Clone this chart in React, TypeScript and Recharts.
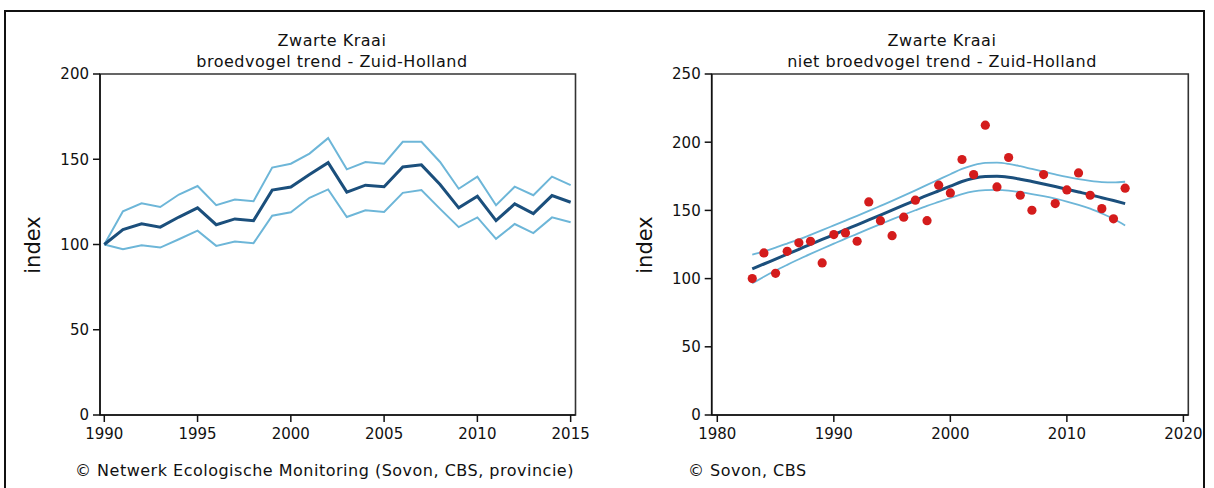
import React from 'react';
import { ComposedChart, Line, Scatter, XAxis, YAxis, ReferenceArea } from 'recharts';

// ---- Left chart: broedvogel trend ----
const breedYears = [1990, 1991, 1992, 1993, 1994, 1995, 1996, 1997, 1998, 1999, 2000, 2001, 2002, 2003, 2004, 2005, 2006, 2007, 2008, 2009, 2010, 2011, 2012, 2013, 2014, 2015];
const breedIndex = [100, 108.7, 112.2, 110.2, 116.1, 121.5, 111.6, 115, 114, 131.9, 133.7, 141.1, 148, 130.7, 134.8, 133.9, 145.5, 146.7, 135.2, 121.5, 128.3, 114, 123.8, 118.1, 128.7, 124.8];
const breedUpper = [100, 119.5, 124.2, 122, 129.3, 134.3, 123.1, 126.4, 125.4, 145.1, 147.4, 153.3, 162.4, 144.1, 148.4, 147.4, 160.2, 160.2, 148.4, 132.7, 139.8, 123, 133.9, 128.9, 139.8, 134.8];
const breedLower = [100, 97.2, 99.6, 98.2, 103.1, 108.1, 99.2, 101.8, 100.8, 116.9, 118.9, 127.4, 132.3, 116.1, 120.1, 119.1, 130.3, 131.9, 120.9, 110.2, 115.9, 103.3, 112, 106.7, 115.9, 113];
const breedXTicks = [1990, 1995, 2000, 2005, 2010, 2015];
const breedYTicks = [0, 50, 100, 150, 200];

// ---- Right chart: niet-broedvogel trend ----
const winterYears = [1983, 1984, 1985, 1986, 1987, 1988, 1989, 1990, 1991, 1992, 1993, 1994, 1995, 1996, 1997, 1998, 1999, 2000, 2001, 2002, 2003, 2004, 2005, 2006, 2007, 2008, 2009, 2010, 2011, 2012, 2013, 2014, 2015];
const winterObserved = [100, 118.8, 103.9, 120, 126.2, 127.4, 111.5, 132.3, 133.5, 127.4, 156.2, 142.5, 131.5, 145, 157.5, 142.5, 168.5, 162.8, 187.3, 176.3, 212.5, 167.2, 188.8, 161.1, 150.1, 176.3, 155, 165, 177.5, 161.1, 151.3, 143.8, 166.3];
const winterTrend = [107.1, 110.7, 114.3, 117.9, 121.5, 125.1, 128.7, 132.3, 135.9, 139.4, 143.0, 146.6, 150.2, 153.8, 157.4, 161.0, 164.4, 167.8, 171.2, 173.6, 174.8, 175.0, 174.3, 172.9, 171.2, 169.4, 167.5, 165.5, 163.5, 161.5, 159.3, 157.2, 155.0];
const winterUpper = [117.6, 120.0, 122.7, 125.7, 128.8, 132.1, 135.5, 139.0, 142.5, 146.0, 149.6, 153.3, 157.0, 160.8, 164.7, 168.7, 172.6, 176.5, 180.4, 183.2, 184.8, 185.0, 184.1, 182.4, 180.4, 178.4, 176.4, 174.5, 172.9, 171.7, 170.8, 170.5, 171.0];
const winterLower = [96.6, 101.4, 105.9, 110.1, 114.2, 118.1, 121.9, 125.6, 129.3, 132.8, 136.4, 139.9, 143.4, 146.8, 150.1, 153.3, 156.2, 159.1, 162.0, 164.0, 164.8, 165.0, 164.5, 163.4, 162.0, 160.4, 158.6, 156.5, 154.1, 151.3, 147.8, 143.9, 139.0];
const winterXTicks = [1980, 1990, 2000, 2010, 2020];
const winterYTicks = [0, 50, 100, 150, 200, 250];

const breedData = breedYears.map((year, i) => ({ year, index: breedIndex[i], upper: breedUpper[i], lower: breedLower[i] }));
const winterData = winterYears.map((year, i) => ({ year, trend: winterTrend[i], upper: winterUpper[i], lower: winterLower[i] }));
const winterPoints = winterYears.map((year, i) => ({ year, obs: winterObserved[i] }));

const FONT = '"DejaVu Sans", Verdana, sans-serif';
const DARK = '#1b4f7c';
const LIGHT = '#6db6d8';
const AXIS = '#111';
const tickStyle = { fill: '#111', fontSize: 15, fontFamily: FONT };

const Dot = (props: any) => {
  const { cx, cy } = props;
  if (cx == null || cy == null) return null;
  return <circle cx={cx} cy={cy} r={4.6} fill="#d41c1c" />;
};

export default function App() {
  const bx: [number, number] = [1989.77, 2015.26];
  const wx: [number, number] = [1979.52, 2020.42];
  return (
    <div style={{ position: 'absolute', left: 0, top: 0, width: 1214, height: 488, background: '#fff', overflow: 'hidden' }}>
      <div style={{ position: 'absolute', left: 0, top: 0 }}>
        <ComposedChart width={620} height={488} data={breedData} margin={{ top: 74, right: 44.5, bottom: 43, left: 40 }}>
          <ReferenceArea x1={bx[0]} x2={bx[1]} y1={0} y2={200} fill="none" stroke="#333" strokeWidth={1.6} ifOverflow="visible" />
          <XAxis dataKey="year" type="number" domain={bx} ticks={breedXTicks} allowDataOverflow interval={0}
            height={30} tickSize={7} tickMargin={6} stroke={AXIS} strokeWidth={1.5} tick={tickStyle} />
          <YAxis type="number" domain={[0, 200]} ticks={breedYTicks} allowDataOverflow interval={0}
            width={60} tickSize={7} tickMargin={4} stroke={AXIS} strokeWidth={1.5} tick={tickStyle} />
          <Line dataKey="upper" type="linear" stroke={LIGHT} strokeWidth={2} dot={false} isAnimationActive={false} />
          <Line dataKey="lower" type="linear" stroke={LIGHT} strokeWidth={2} dot={false} isAnimationActive={false} />
          <Line dataKey="index" type="linear" stroke={DARK} strokeWidth={3} dot={false} isAnimationActive={false} />
        </ComposedChart>
      </div>
      <div style={{ position: 'absolute', left: 610, top: 0 }}>
        <ComposedChart width={604} height={488} data={winterData} margin={{ top: 74, right: 25.7, bottom: 43, left: 41.7 }}>
          <ReferenceArea x1={wx[0]} x2={wx[1]} y1={0} y2={250} fill="none" stroke="#333" strokeWidth={1.6} ifOverflow="visible" />
          <XAxis dataKey="year" type="number" domain={wx} ticks={winterXTicks} allowDataOverflow interval={0}
            height={30} tickSize={7} tickMargin={6} stroke={AXIS} strokeWidth={1.5} tick={tickStyle} />
          <YAxis type="number" domain={[0, 250]} ticks={winterYTicks} allowDataOverflow interval={0}
            width={60} tickSize={7} tickMargin={4} stroke={AXIS} strokeWidth={1.5} tick={tickStyle} />
          <Line dataKey="upper" type="monotone" stroke={LIGHT} strokeWidth={1.8} dot={false} isAnimationActive={false} />
          <Line dataKey="lower" type="monotone" stroke={LIGHT} strokeWidth={1.8} dot={false} isAnimationActive={false} />
          <Line dataKey="trend" type="monotone" stroke={DARK} strokeWidth={3} dot={false} isAnimationActive={false} />
          <Scatter data={winterPoints} dataKey="obs" shape={Dot} isAnimationActive={false} />
        </ComposedChart>
      </div>
      <svg width={1214} height={488} style={{ position: 'absolute', left: 0, top: 0, pointerEvents: 'none' }} fontFamily={FONT}>
        <path d="M5,488 V11 H1204 V488" fill="none" stroke="#111" strokeWidth={2} />
        <text x={332} y={46} textAnchor="middle" fontSize={16} letterSpacing={0.5} fill="#111">Zwarte Kraai</text>
        <text x={332} y={67} textAnchor="middle" fontSize={16} letterSpacing={0.5} fill="#111">broedvogel trend - Zuid-Holland</text>
        <text x={942} y={46} textAnchor="middle" fontSize={16} letterSpacing={0.5} fill="#111">Zwarte Kraai</text>
        <text x={942} y={67} textAnchor="middle" fontSize={16} letterSpacing={0.5} fill="#111">niet broedvogel trend - Zuid-Holland</text>
        <text transform="translate(40,245) rotate(-90)" textAnchor="middle" fontSize={21} fill="#111">index</text>
        <text transform="translate(652,245) rotate(-90)" textAnchor="middle" fontSize={21} fill="#111">index</text>
        <text x={75} y={476} fontSize={16} letterSpacing={0.5} fill="#111">© Netwerk Ecologische Monitoring (Sovon, CBS, provincie)</text>
        <text x={688} y={476} fontSize={16} letterSpacing={0.5} fill="#111">© Sovon, CBS</text>
      </svg>
    </div>
  );
}
